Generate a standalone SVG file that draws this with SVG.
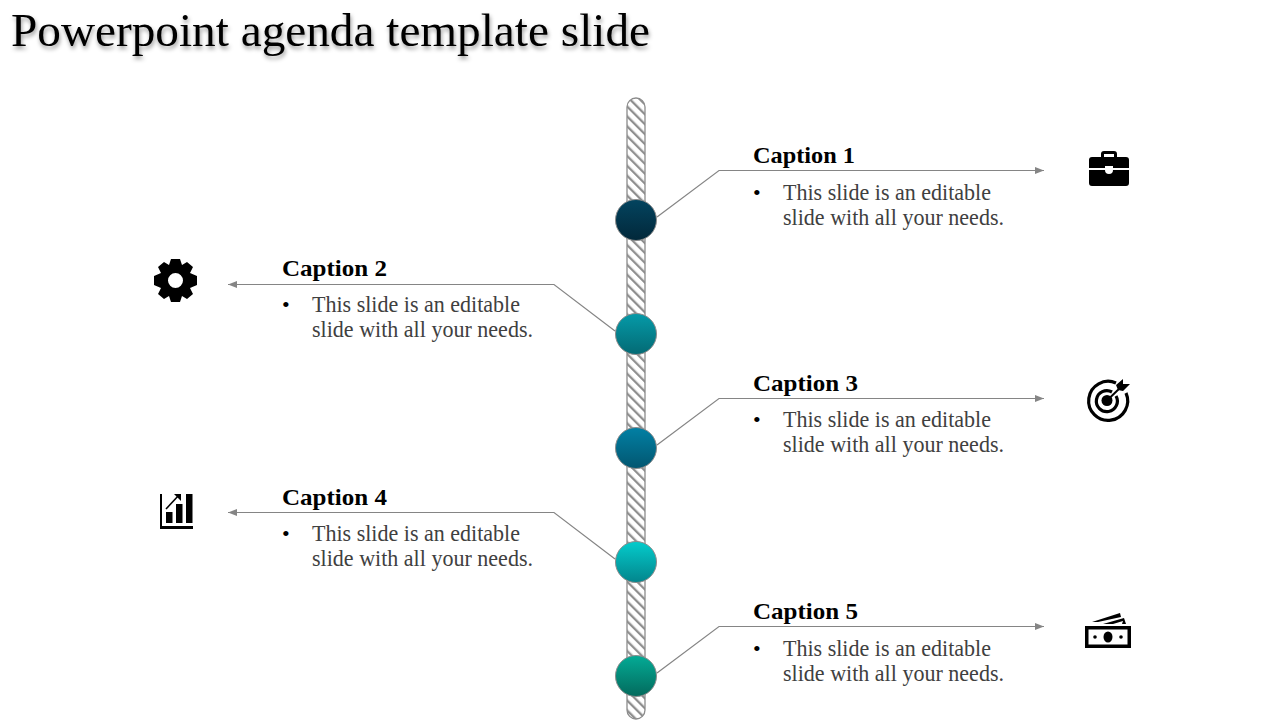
<svg xmlns="http://www.w3.org/2000/svg" width="1280" height="720" viewBox="0 0 1280 720">
<style>
text{font-family:"Liberation Serif",serif;}
.title{font-size:46px;fill:#000;filter:url(#ts);}
.cap{font-size:23px;font-weight:bold;fill:#000;}
.body{font-size:23px;fill:#404040;}
.bul{font-size:22px;fill:#000;}
.ln{fill:none;stroke:#858585;stroke-width:1.200;}
.ball{stroke:#8c8c8c;stroke-width:1;}
</style>
<defs>
<filter id="ts" x="-5%" y="-30%" width="110%" height="170%"><feDropShadow dx="1" dy="3" stdDeviation="2" flood-color="#000" flood-opacity="0.4"/></filter>
<pattern id="hatch" width="7" height="7" patternUnits="userSpaceOnUse" patternTransform="translate(627 98) rotate(-45)"><rect width="7" height="7" fill="#fff"/><rect width="2.300" height="7" fill="#8f8f8f"/></pattern>
<marker id="arr" markerWidth="10" markerHeight="8" refX="9" refY="4" orient="auto" markerUnits="userSpaceOnUse"><path d="M0 0.500L9 4L0 7.500Z" fill="#858585"/></marker>
<linearGradient id="g1" x1="0" y1="0" x2="0" y2="1"><stop offset="0" stop-color="#03445f"/><stop offset="1" stop-color="#02283a"/></linearGradient>
<linearGradient id="g2" x1="0" y1="0" x2="0" y2="1"><stop offset="0" stop-color="#059aa8"/><stop offset="1" stop-color="#046a74"/></linearGradient>
<linearGradient id="g3" x1="0" y1="0" x2="0" y2="1"><stop offset="0" stop-color="#0280a4"/><stop offset="1" stop-color="#025670"/></linearGradient>
<linearGradient id="g4" x1="0" y1="0" x2="0" y2="1"><stop offset="0" stop-color="#04cccc"/><stop offset="1" stop-color="#03858c"/></linearGradient>
<linearGradient id="g5" x1="0" y1="0" x2="0" y2="1"><stop offset="0" stop-color="#04ab96"/><stop offset="1" stop-color="#036a5c"/></linearGradient>
</defs>
<rect width="1280" height="720" fill="#fff"/>
<text id="title" class="title" x="11" y="46" textLength="639" lengthAdjust="spacingAndGlyphs">Powerpoint agenda template slide</text>
<rect id="bar" x="627" y="98" width="18" height="621" rx="9" fill="url(#hatch)" stroke="#8c8c8c" stroke-width="1.300"/>
<g id="connectors">
<path class="ln" marker-end="url(#arr)" d="M657 217L719 170.500H1044"/>
<path class="ln" marker-end="url(#arr)" d="M615 331L554 284.500H228"/>
<path class="ln" marker-end="url(#arr)" d="M657 445L719 398.500H1044"/>
<path class="ln" marker-end="url(#arr)" d="M615 559L554 512.500H228"/>
<path class="ln" marker-end="url(#arr)" d="M657 673L719 626.500H1044"/>
</g>
<g id="node1">
<circle class="ball" cx="636" cy="220" r="20.500" fill="url(#g1)"/>
<text class="cap" x="753" y="163" textLength="102" lengthAdjust="spacingAndGlyphs">Caption 1</text>
<text class="bul" x="753" y="200">•</text>
<text class="body" x="783" y="200" textLength="208" lengthAdjust="spacingAndGlyphs">This slide is an editable</text>
<text class="body" x="783" y="225" textLength="221" lengthAdjust="spacingAndGlyphs">slide with all your needs.</text>
<path fill="#000" fill-rule="evenodd" d="M1101 157V154Q1101 151 1104 151H1114Q1117 151 1117 154V157H1126Q1129 157 1129 160V168H1113V166H1105V168H1089V160Q1089 157 1092 157ZM1104 157H1114V154H1104Z"/>
<path fill="#000" d="M1089 170H1105Q1105 174 1109 174Q1113 174 1113 170H1129V183Q1129 186 1126 186H1092Q1089 186 1089 183Z"/>
</g>
<g id="node2">
<circle class="ball" cx="636" cy="334" r="20.500" fill="url(#g2)"/>
<text class="cap" x="282" y="276" textLength="105" lengthAdjust="spacingAndGlyphs">Caption 2</text>
<text class="bul" x="282" y="312">•</text>
<text class="body" x="312" y="312" textLength="208" lengthAdjust="spacingAndGlyphs">This slide is an editable</text>
<text class="body" x="312" y="337" textLength="221" lengthAdjust="spacingAndGlyphs">slide with all your needs.</text>
<path fill="#000" fill-rule="evenodd" d="M171 259H180L182 265L187 262L193 267L190 273L197 276V285L190 288L193 294L187 299L182 296L180 302H171L169 296L164 299L158 294L161 288L154 285V276L161 273L158 267L164 262L169 265ZM175.500 273A7.500 7.500 0 1 0 175.500 288A7.500 7.500 0 1 0 175.500 273Z"/>
</g>
<g id="node3">
<circle class="ball" cx="636" cy="448" r="20.500" fill="url(#g3)"/>
<text class="cap" x="753" y="391" textLength="105" lengthAdjust="spacingAndGlyphs">Caption 3</text>
<text class="bul" x="753" y="427">•</text>
<text class="body" x="783" y="427" textLength="208" lengthAdjust="spacingAndGlyphs">This slide is an editable</text>
<text class="body" x="783" y="452" textLength="221" lengthAdjust="spacingAndGlyphs">slide with all your needs.</text>
<g fill="none" stroke="#000" stroke-width="3.200">
<path d="M1116 383A19.500 19.500 0 1 0 1126 393"/>
<path d="M1112 392A10.500 10.500 0 1 0 1116 396"/>
</g>
<circle cx="1107" cy="400.500" r="5.500" fill="#000"/>
<path stroke="#000" stroke-width="2" d="M1107 400.500L1122 386"/>
<path fill="#000" d="M1116 385L1123 379L1123 384L1130 384L1123 391L1118 390Z"/>
</g>
<g id="node4">
<circle class="ball" cx="636" cy="562" r="20.500" fill="url(#g4)"/>
<text class="cap" x="282" y="505" textLength="105" lengthAdjust="spacingAndGlyphs">Caption 4</text>
<text class="bul" x="282" y="541">•</text>
<text class="body" x="312" y="541" textLength="208" lengthAdjust="spacingAndGlyphs">This slide is an editable</text>
<text class="body" x="312" y="566" textLength="221" lengthAdjust="spacingAndGlyphs">slide with all your needs.</text>
<path fill="#000" d="M160 494H162V526H193V529H160Z"/>
<rect x="166" y="512" width="6.500" height="11" fill="#000"/>
<rect x="176" y="504" width="6.500" height="19" fill="#000"/>
<rect x="186" y="494" width="6.500" height="29" fill="#000"/>
<path fill="none" stroke="#000" stroke-width="1.600" d="M166 509L179 495"/>
<path fill="#000" d="M174 494H181V501Z"/>
</g>
<g id="node5">
<circle class="ball" cx="636" cy="676" r="20.500" fill="url(#g5)"/>
<text class="cap" x="753" y="619" textLength="105" lengthAdjust="spacingAndGlyphs">Caption 5</text>
<text class="bul" x="753" y="656">•</text>
<text class="body" x="783" y="656" textLength="208" lengthAdjust="spacingAndGlyphs">This slide is an editable</text>
<text class="body" x="783" y="681" textLength="221" lengthAdjust="spacingAndGlyphs">slide with all your needs.</text>
<path fill="#000" fill-rule="evenodd" d="M1085 626H1131V648H1085ZM1088.500 629.500V644.500H1127.500V629.500Z"/>
<ellipse cx="1108" cy="637" rx="4.500" ry="5.500" fill="#000"/>
<circle cx="1095" cy="637" r="1.800" fill="#000"/>
<circle cx="1121" cy="637" r="1.800" fill="#000"/>
<path fill="#000" d="M1092 622L1120 613L1121 617L1098 622ZM1103 624L1124 618L1126 624H1122L1123 621L1113 624Z"/>
</g>
</svg>
